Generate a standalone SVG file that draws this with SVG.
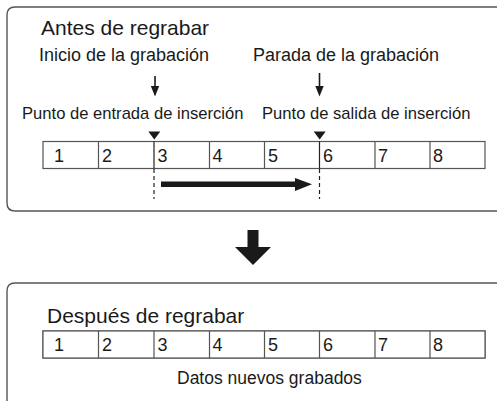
<svg xmlns="http://www.w3.org/2000/svg" width="497" height="401" viewBox="0 0 497 401">
<style>
text{font-family:"Liberation Sans",Arial,sans-serif;fill:#1a1a1a}
.panel{fill:none;stroke:#555;stroke-width:1.4}
.cell{fill:#fff;stroke:#555;stroke-width:1.2}
.new{fill:#d4d4d4}
.num{font-size:18px}
.lbl{font-size:18px}
.pt{font-size:16.6px}
.title{font-size:21px}
.dash{stroke:#222;stroke-width:1.2;stroke-dasharray:4 3}
</style>
<g id="panel-antes">
<path class="panel" d="M497,7 H15 Q7,7 7,15 V203 Q7,211 15,211 H497"/>
<text class="title" x="41" y="35">Antes de regrabar</text>
</g>
<g id="label-inicio"><text class="lbl" x="39" y="61">Inicio de la grabación</text></g>
<g id="label-parada"><text class="lbl" x="253" y="61">Parada de la grabación</text></g>
<g id="label-entrada"><text class="pt" x="22" y="119">Punto de entrada de inserción</text></g>
<g id="label-salida"><text class="pt" x="262" y="119">Punto de salida de inserción</text></g>
<g id="track-antes">
<rect class="cell" x="43" y="141.5" width="442" height="27"/>
<path stroke="#555" stroke-width="1.2" d="M98.5,141.5V168.5M209.5,141.5V168.5M264.5,141.5V168.5M375,141.5V168.5M430,141.5V168.5"/>
<path stroke="#222" stroke-width="1.2" d="M154,141.5V168.5M319.5,141.5V168.5"/>
<text class="num" x="54" y="162">1</text>
<text class="num" x="102" y="162">2</text>
<text class="num" x="157.5" y="162">3</text>
<text class="num" x="212.5" y="162">4</text>
<text class="num" x="268" y="162">5</text>
<text class="num" x="323" y="162">6</text>
<text class="num" x="378" y="162">7</text>
<text class="num" x="433" y="162">8</text>
</g>
<g id="connectors">
<line x1="155" y1="76" x2="155" y2="88" stroke="#1a1a1a" stroke-width="1.6"/>
<polygon points="150.8,86 159.2,86 155,96.5" fill="#1a1a1a"/>
<line x1="319.5" y1="73" x2="319.5" y2="88" stroke="#1a1a1a" stroke-width="1.6"/>
<polygon points="315.3,86 323.7,86 319.5,96.5" fill="#1a1a1a"/>
<polygon points="148.3,131.5 160.3,131.5 154.3,139.5" fill="#1a1a1a"/>
<polygon points="313.7,131.5 325.7,131.5 319.7,139.5" fill="#1a1a1a"/>
<line class="dash" x1="154" y1="169" x2="154" y2="199"/>
<line class="dash" x1="319.5" y1="169" x2="319.5" y2="199"/>
<line x1="161" y1="184.3" x2="298" y2="184.3" stroke="#1a1a1a" stroke-width="5.5"/>
<polygon points="295,178 312,184.3 295,191" fill="#1a1a1a"/>
<polygon points="247.5,230 258.5,230 258.5,247 271,247 253,265 235,247 247.5,247" fill="#1a1a1a"/>
</g>
<g id="panel-despues">
<path class="panel" d="M7,401 V291 Q7,283 15,283 H497"/>
<text class="title" x="47" y="323">Después de regrabar</text>
</g>
<g id="track-despues">
<rect class="cell" x="43" y="331" width="442" height="27"/>
<rect class="new" x="154" y="331" width="165.5" height="27"/>
<rect class="cell" x="43" y="331" width="442" height="27" fill="none"/>
<path stroke="#555" stroke-width="1.2" d="M98.5,331V358M154,331V358M209.5,331V358M264.5,331V358M319.5,331V358M375,331V358M430,331V358"/>
<text class="num" x="54" y="351">1</text>
<text class="num" x="102" y="351">2</text>
<text class="num" x="157.5" y="351">3</text>
<text class="num" x="212.5" y="351">4</text>
<text class="num" x="268" y="351">5</text>
<text class="num" x="323" y="351">6</text>
<text class="num" x="378" y="351">7</text>
<text class="num" x="433" y="351">8</text>
<text x="177" y="383.5" font-size="17.5">Datos nuevos grabados</text>
</g>
</svg>
